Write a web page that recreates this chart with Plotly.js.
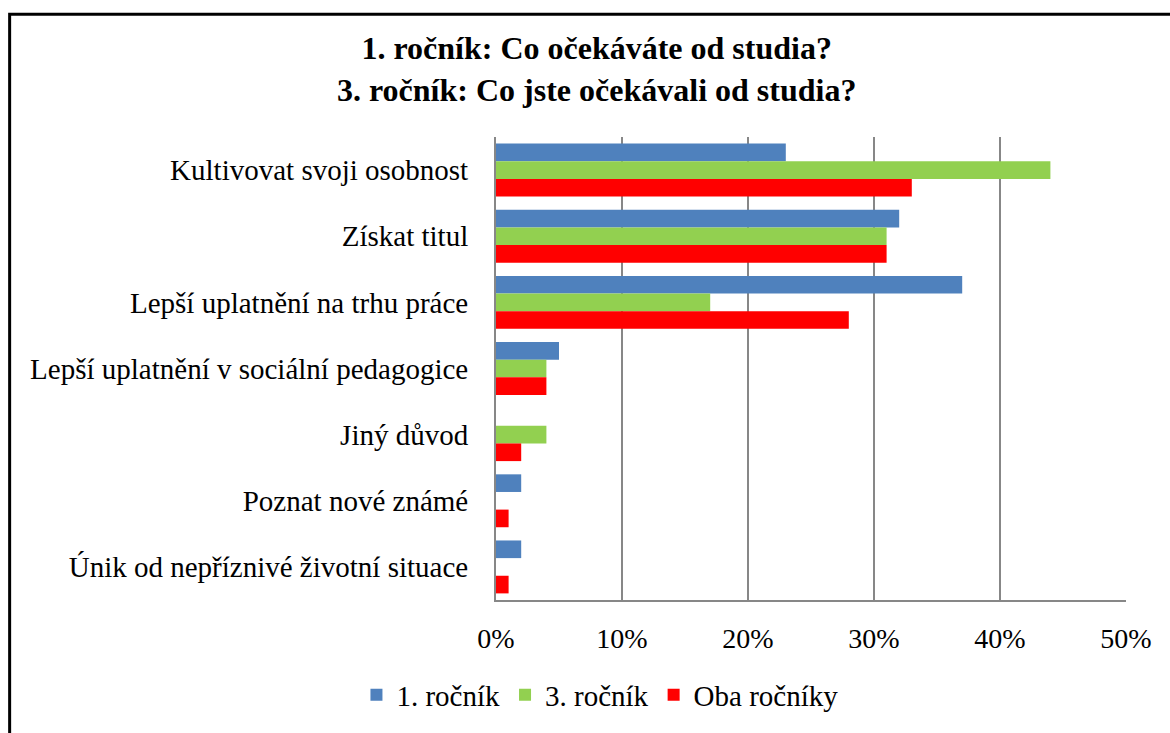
<!DOCTYPE html>
<html>
<head>
<meta charset="utf-8">
<script src="https://cdn.plot.ly/plotly-3.0.1.min.js"></script>
<style>html,body{margin:0;padding:0;background:#fff;}#chart{width:1170px;height:733px;}</style>
</head>
<body>
<div id="chart"></div>
<script>
const categories = [
  "Kultivovat svoji osobnost",
  "Získat titul",
  "Lepší uplatnění na trhu práce",
  "Lepší uplatnění v sociální pedagogice",
  "Jiný důvod",
  "Poznat nové známé",
  "Únik od nepříznivé životní situace"
];
const seriesNames = ["1. ročník", "3. ročník", "Oba ročníky"];
const rocnik1 = [23, 32, 37, 5, 0, 2, 2];
const rocnik3 = [44, 31, 17, 4, 4, 0, 0];
const oba = [33, 31, 28, 4, 2, 1, 1];
const colors = ["#4F81BD", "#92D050", "#FF0000"];
const xTicks = [0, 10, 20, 30, 40, 50];
const xTickLabels = ["0%", "10%", "20%", "30%", "40%", "50%"];
const titleText = "1. ročník: Co očekáváte od studia?<br>3. ročník: Co jste očekávali od studia?";

const font = "Liberation Serif";
const data = [rocnik1, rocnik3, oba].map((vals, i) => ({
  type: "bar",
  orientation: "h",
  name: seriesNames[i],
  x: vals,
  y: categories,
  marker: {color: colors[i]},
  hoverinfo: "x+y"
}));

const layout = {
  width: 1170,
  height: 733,
  margin: {l: 496, r: 44, t: 137, b: 128},
  paper_bgcolor: "#fff",
  plot_bgcolor: "#fff",
  font: {family: font, color: "#000", size: 29},
  title: {
    text: "<b>" + titleText + "</b>",
    font: {family: font, size: 32, color: "#000"},
    x: 0.51, xref: "container", xanchor: "center",
    y: 0.919, yref: "container", yanchor: "middle"
  },
  barmode: "group",
  bargap: 0.2,
  bargroupgap: 0,
  xaxis: {
    range: [0, 50],
    tickvals: xTicks,
    ticktext: xTickLabels,
    showgrid: true,
    gridcolor: "#878787",
    gridwidth: 2,
    showline: true,
    linecolor: "#878787",
    linewidth: 2,
    zeroline: false,
    ticks: "",
    ticklabelstandoff: 12,
    tickfont: {family: font, size: 28, color: "#000"},
    fixedrange: true
  },
  yaxis: {
    autorange: "reversed",
    showgrid: false,
    showline: true,
    linecolor: "#878787",
    linewidth: 2,
    zeroline: false,
    ticks: "",
    ticklabelstandoff: 20,
    tickfont: {family: font, size: 29, color: "#000"},
    fixedrange: true
  },
  showlegend: true,
  legend: {
    orientation: "h",
    x: 0.165, xanchor: "center",
    y: -0.205, yanchor: "middle",
    font: {family: font, size: 29, color: "#000"},
    itemwidth: 30,
    traceorder: "normal"
  },
  shapes: [{
    type: "rect",
    xref: "paper", yref: "paper",
    x0: -0.772, x1: 1.09,
    y0: -0.3, y1: 1.265,
    line: {color: "#000", width: 3},
    fillcolor: "rgba(0,0,0,0)",
    layer: "above"
  }]
};

Plotly.newPlot("chart", data, layout, {displayModeBar: false, staticPlot: true});
</script>
</body>
</html>
